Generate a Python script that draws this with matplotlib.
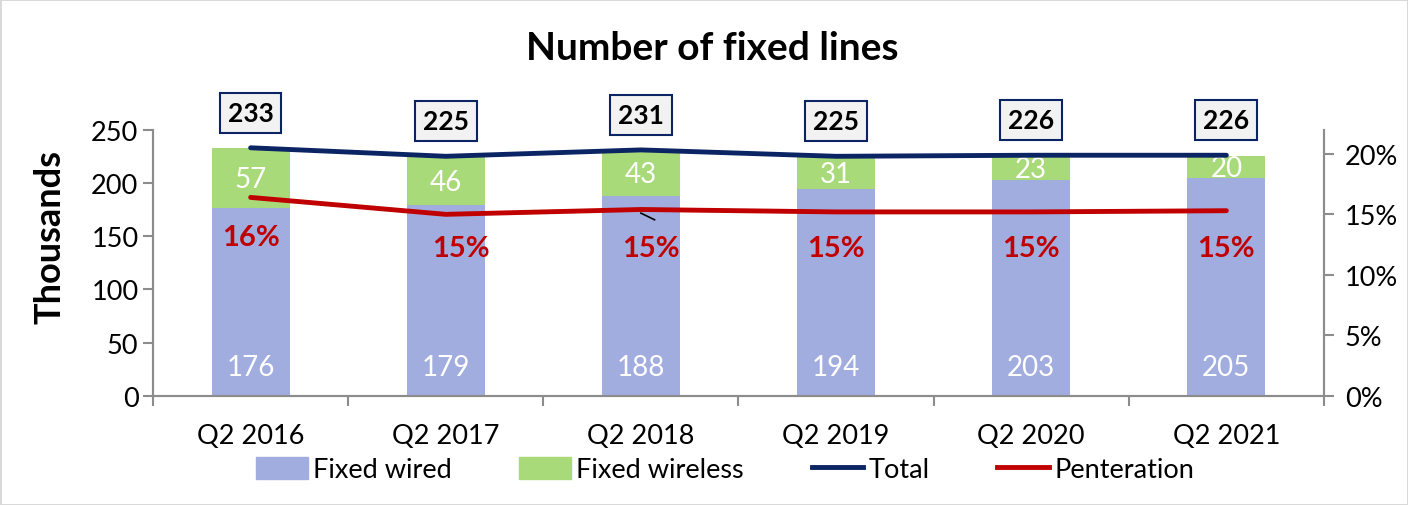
import numpy as np
import matplotlib.pyplot as plt
from matplotlib.patches import Patch
from matplotlib.lines import Line2D

plt.rcParams['font.family'] = ['Lato', 'DejaVu Sans']

quarters = ['Q2 2016', 'Q2 2017', 'Q2 2018', 'Q2 2019', 'Q2 2020', 'Q2 2021']
fixed_wired = [176, 179, 188, 194, 203, 205]
fixed_wireless = [57, 46, 43, 31, 23, 20]
total = [233, 225, 231, 225, 226, 226]
penetration = [0.164, 0.150, 0.154, 0.152, 0.152, 0.153]
pen_labels = ['16%', '15%', '15%', '15%', '15%', '15%']

c_wired = '#A2ADDF'
c_wireless = '#A9DA79'
c_total = '#0B2464'
c_pen = '#C00000'
c_axis = '#8C8C8C'

fig = plt.figure(figsize=(14.08, 5.06), dpi=100)
fig.patch.set_edgecolor('#D9D9D9')
fig.patch.set_linewidth(2)
ax = fig.add_axes([0.1087, 0.216, 0.8316, 0.5257])
ax2 = ax.twinx()

x = np.arange(len(quarters))
w = 0.4
ax.bar(x, fixed_wired, w, color=c_wired, zorder=2)
ax.bar(x, fixed_wireless, w, bottom=fixed_wired, color=c_wireless, zorder=2)

for i in range(len(x)):
    ax.text(x[i], 27, str(fixed_wired[i]), color='white', ha='center', va='center',
            fontsize=20, zorder=3)
    ax.text(x[i], fixed_wired[i] + fixed_wireless[i] / 2 - 1, str(fixed_wireless[i]),
            color='white', ha='center', va='center', fontsize=20, zorder=3)

ax.plot(x, total, color=c_total, lw=3.5, solid_capstyle='round', zorder=4)
for i in range(len(x)):
    ax.text(x[i], total[i] + 33, str(total[i]), ha='center', va='center', fontsize=19,
            fontweight='bold', color='black', zorder=5,
            bbox=dict(boxstyle='square,pad=0.3', fc='#F2F2F2', ec=c_total, lw=1.5))

ax2.plot(x, penetration, color=c_pen, lw=3.5, solid_capstyle='round', zorder=4)
lab_dx = [0, 0.08, 0.05, 0, 0, 0]
lab_y = [0.131, 0.122, 0.122, 0.122, 0.122, 0.122]
for i in range(len(x)):
    ax2.text(x[i] + lab_dx[i], lab_y[i], pen_labels[i], color=c_pen, ha='center',
             va='center', fontsize=21, fontweight='bold', zorder=5)
ax2.plot([x[2] + 0.0, x[2] + 0.07], [penetration[2] - 0.003, penetration[2] - 0.0085],
         color='black', lw=1.2, zorder=5)

ax.set_xlim(-0.5, len(x) - 0.5)
ax.set_ylim(0, 250)
ax2.set_ylim(0, 0.22)
ax.set_yticks(np.arange(0, 251, 50))
ax2.set_yticks(np.arange(0, 0.201, 0.05))
ax2.set_yticklabels(['0%', '5%', '10%', '15%', '20%'])

ax.set_xticks(np.arange(-0.5, len(x), 1))
ax.set_xticklabels([])
ax.set_xticks(x, minor=True)
ax.set_xticklabels(quarters, minor=True)
ax.tick_params(axis='x', which='major', length=7, color=c_axis, width=1.5)
ax.tick_params(axis='x', which='minor', length=0, labelsize=19.5, pad=20)
ax.tick_params(axis='y', length=7, color=c_axis, width=1.5, labelsize=19.5)
ax2.tick_params(axis='y', length=7, color=c_axis, width=1.5, labelsize=19.5, pad=8)

for a in (ax, ax2):
    a.spines['top'].set_visible(False)
    for s in ('left', 'right', 'bottom'):
        a.spines[s].set_color(c_axis)
        a.spines[s].set_linewidth(1.5)

ax.set_ylabel('Thousands', fontsize=26, fontweight='bold')
ax.yaxis.set_label_coords(-0.074, 0.6)
fig.text(0.506, 0.905, 'Number of fixed lines', ha='center', va='center',
         fontsize=28, fontweight='bold')

handles = [Patch(color=c_wired, label='Fixed wired'),
           Patch(color=c_wireless, label='Fixed wireless'),
           Line2D([], [], color=c_total, lw=3.5, label='Total'),
           Line2D([], [], color=c_pen, lw=3.5, label='Penteration')]
fig.legend(handles=handles, loc='center', bbox_to_anchor=(0.515, 0.07), ncol=4,
           frameon=False, fontsize=19.5, handlelength=1.9, handleheight=0.9,
           columnspacing=2.5, handletextpad=0.2)

fig.savefig('out.png', dpi=100, edgecolor=fig.get_edgecolor())
